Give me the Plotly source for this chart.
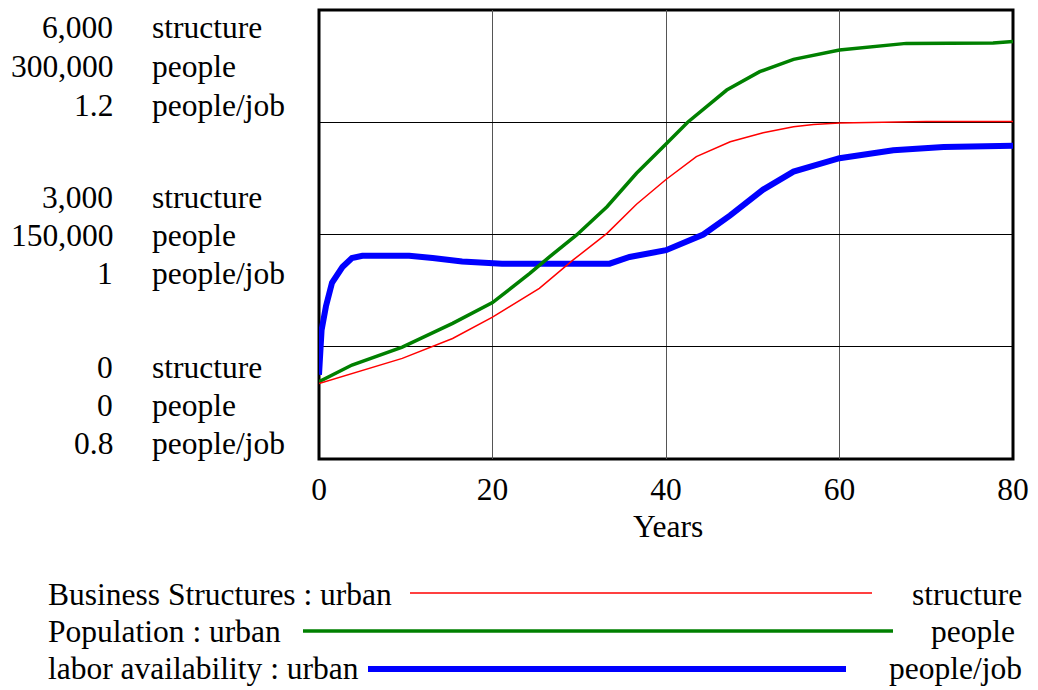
import plotly.graph_objects as go

# ---------------- data ----------------
years_red = [0, 3.8, 9.6, 15.4, 20, 25.4, 29.3, 33.2, 36.6, 40, 43.5, 47.4, 51.2, 54.7, 57, 60, 66, 70, 80]
business_structures = [1010, 1145, 1345, 1610, 1895, 2280, 2660, 3015, 3405, 3735, 4040, 4240, 4360,
                       4440, 4470, 4490, 4505, 4510, 4510]

years_green = [0, 3.8, 9.6, 15.4, 20, 24.3, 26.6, 29.7, 33.2, 36.6, 40, 42.5, 47, 50.8, 54.7, 60,
               67.7, 77.7, 80]
population = [51600, 62800, 74700, 90600, 104500, 124000, 135200, 149700, 168600, 190900, 210500,
              225000, 246500, 258800, 267000, 273300, 277700, 278000, 279000]

years_blue = [0, 0.3, 0.8, 1.5, 2.7, 3.8, 5, 10.4, 13.1, 16.5, 21.1, 33.5, 35.8, 40, 44.3, 47.4, 51.2,
              54.7, 60, 66.2, 72, 80]
labor_availability = [0.875, 0.915, 0.936, 0.957, 0.971, 0.979, 0.981, 0.981, 0.979, 0.976, 0.974, 0.974,
                      0.980, 0.986, 1.000, 1.017, 1.040, 1.056, 1.068, 1.075, 1.078, 1.079]

x_ticks = [0, 20, 40, 60, 80]
x_title = "Years"

axis_groups = [  # (number, unit) rows, grouped top / middle / bottom
    [("6,000", "structure"), ("300,000", "people"), ("1.2", "people/job")],
    [("3,000", "structure"), ("150,000", "people"), ("1", "people/job")],
    [("0", "structure"), ("0", "people"), ("0.8", "people/job")],
]

legend_names = ["Business Structures : urban", "Population : urban", "labor availability : urban"]
legend_units = ["structure", "people", "people/job"]

# ---------------- layout helpers ----------------
W, H = 1038, 690
L, R, T, B = 319, 1013, 10, 459
FONT = "Liberation Serif, Times New Roman, serif"
FS = 31.5


def px(xp):
    return (xp - L) / (R - L)


def py(yp):
    return (B - yp) / (B - T)


fig = go.Figure()

# blue on main axis (drawn first, underneath)
fig.add_trace(go.Scatter(x=years_blue, y=labor_availability, mode="lines",
                         line=dict(color="#0000ff", width=6), yaxis="y", showlegend=False))
fig.add_trace(go.Scatter(x=years_green, y=population, mode="lines",
                         line=dict(color="#008000", width=3.5), yaxis="y2", showlegend=False))
fig.add_trace(go.Scatter(x=years_red, y=business_structures, mode="lines",
                         line=dict(color="#ff0000", width=1.5), yaxis="y3", showlegend=False))

annotations = []
row_centers = [[28, 67, 105], [197, 235, 273], [367, 405, 443]]
for grp, centers in zip(axis_groups, row_centers):
    for (num, unit), yc in zip(grp, centers):
        annotations.append(dict(x=px(115), y=py(yc), xref="paper", yref="paper", text=num,
                                showarrow=False, xanchor="right", yanchor="middle",
                                font=dict(family=FONT, size=FS, color="black")))
        annotations.append(dict(x=px(150), y=py(yc), xref="paper", yref="paper", text=unit,
                                showarrow=False, xanchor="left", yanchor="middle",
                                font=dict(family=FONT, size=FS, color="black")))

legend_rows = [594, 631, 668]
legend_unit_right = [1024, 1017, 1024]
legend_line_x = [(410, 872), (303, 893), (368, 846)]
legend_line_y = [593, 631, 669]
legend_colors = ["#ff0000", "#008000", "#0000ff"]
legend_widths = [1.5, 3.5, 6]

shapes = []
for name, unit, yc, ur, (x0, x1), ly, col, lw in zip(legend_names, legend_units, legend_rows,
                                                     legend_unit_right, legend_line_x, legend_line_y,
                                                     legend_colors, legend_widths):
    annotations.append(dict(x=px(46), y=py(yc), xref="paper", yref="paper", text=name,
                            showarrow=False, xanchor="left", yanchor="middle",
                            font=dict(family=FONT, size=FS, color="black")))
    annotations.append(dict(x=px(ur), y=py(yc), xref="paper", yref="paper", text=unit,
                            showarrow=False, xanchor="right", yanchor="middle",
                            font=dict(family=FONT, size=FS, color="black")))
    shapes.append(dict(type="line", xref="paper", yref="paper", x0=px(x0), x1=px(x1),
                       y0=py(ly), y1=py(ly), line=dict(color=col, width=lw)))

# frame
shapes.append(dict(type="rect", xref="paper", yref="paper", x0=0, x1=1, y0=0, y1=1,
                   line=dict(color="black", width=3), layer="below"))

annotations.append(dict(x=px(668), y=py(526), xref="paper", yref="paper", text=x_title,
                        showarrow=False, xanchor="center", yanchor="middle",
                        font=dict(family=FONT, size=FS, color="black")))

fig.update_layout(
    width=W, height=H,
    margin=dict(l=L, r=W - R, t=T, b=H - B, pad=0),
    paper_bgcolor="white", plot_bgcolor="white",
    font=dict(family=FONT, size=FS, color="black"),
    xaxis=dict(range=[0, 80], tickvals=x_ticks, ticktext=[str(v) for v in x_ticks],
               showgrid=True, gridcolor="#555555", gridwidth=1, zeroline=False,
               showline=False, ticks="", ticklabelstandoff=8,
               tickfont=dict(family=FONT, size=FS, color="black")),
    yaxis=dict(range=[0.8, 1.2], dtick=0.1, showgrid=True, gridcolor="black", gridwidth=1,
               zeroline=False, showticklabels=False, ticks="", showline=False),
    yaxis2=dict(range=[0, 300000], overlaying="y", visible=False),
    yaxis3=dict(range=[0, 6000], overlaying="y", visible=False),
    annotations=annotations,
    shapes=shapes,
)

fig.write_html("out.html", config={"displayModeBar": False},
               post_script="document.body.style.margin='0';document.body.style.overflow='hidden';")
